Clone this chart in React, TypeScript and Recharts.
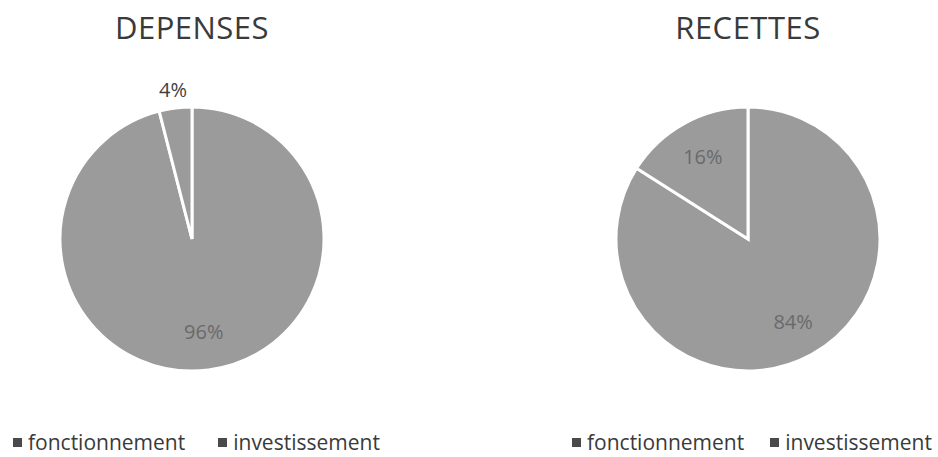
import React from "react"
import { PieChart, Pie, Cell } from "recharts"

const categories = ["fonctionnement", "investissement"]
const depenses = [96, 4]
const recettes = [84, 16]
const titles = ["DEPENSES", "RECETTES"]

const FONT = "'Open Sans', 'Noto Sans', sans-serif"
const SLICE = "#9b9b9b"
const RADIAN = Math.PI / 180

const toRows = (vals: number[]) =>
  categories.map((name, i) => ({ name, value: vals[i] }))

const renderLabel = (props: any) => {
  const { cx, cy, midAngle, outerRadius, percent } = props
  const small = percent < 0.1
  const r = small ? outerRadius + 19 : outerRadius * 0.71
  const x = cx + r * Math.cos(-midAngle * RADIAN)
  const y = cy + r * Math.sin(-midAngle * RADIAN)
  return (
    <text
      x={x}
      y={y}
      textAnchor="middle"
      dominantBaseline="central"
      fontFamily={FONT}
      fontSize={20}
      fill={small ? "#3f3f3f" : "#6a6a6a"}
    >
      {`${Math.round(percent * 100)}%`}
    </text>
  )
}

function Legend({ left, gap }: { left: number; gap: number }) {
  return (
    <div
      style={{
        position: "absolute",
        left,
        top: 430,
        display: "flex",
        gap,
        fontFamily: FONT,
        fontSize: 21,
        lineHeight: "25px",
        color: "#3a3a3a",
        whiteSpace: "nowrap",
      }}
    >
      {categories.map((c) => (
        <span key={c} style={{ display: "flex", alignItems: "center" }}>
          <span
            style={{
              display: "inline-block",
              width: 9,
              height: 9,
              background: "#4a4a4a",
              marginRight: 6,
            }}
          />
          {c}
        </span>
      ))}
    </div>
  )
}

function Title({ text, cx }: { text: string; cx: number }) {
  return (
    <div
      style={{
        position: "absolute",
        left: cx - 150,
        width: 300,
        top: 6,
        textAlign: "center",
        fontFamily: FONT,
        fontSize: 31,
        lineHeight: "42px",
        letterSpacing: 0.5,
        color: "#3a3a3a",
      }}
    >
      {text}
    </div>
  )
}

export default function App() {
  const pies = [
    { cx: 192, data: toRows(depenses) },
    { cx: 748, data: toRows(recettes) },
  ]
  return (
    <div
      style={{
        position: "absolute",
        left: 0,
        top: 0,
        width: 938,
        height: 457,
        background: "#ffffff",
      }}
    >
      <PieChart
        width={938}
        height={457}
        margin={{ top: 0, right: 0, bottom: 0, left: 0 }}
      >
        {pies.map((p, i) => (
          <Pie
            key={i}
            data={p.data}
            dataKey="value"
            nameKey="name"
            cx={p.cx}
            cy={239}
            outerRadius={132}
            startAngle={90}
            endAngle={-270}
            stroke="#ffffff"
            strokeWidth={3}
            label={renderLabel}
            labelLine={false}
            isAnimationActive={false}
          >
            {p.data.map((d) => (
              <Cell key={d.name} fill={SLICE} />
            ))}
          </Pie>
        ))}
      </PieChart>
      <Title text={titles[0]} cx={192} />
      <Title text={titles[1]} cx={748} />
      <Legend left={13} gap={33} />
      <Legend left={572} gap={26} />
    </div>
  )
}
